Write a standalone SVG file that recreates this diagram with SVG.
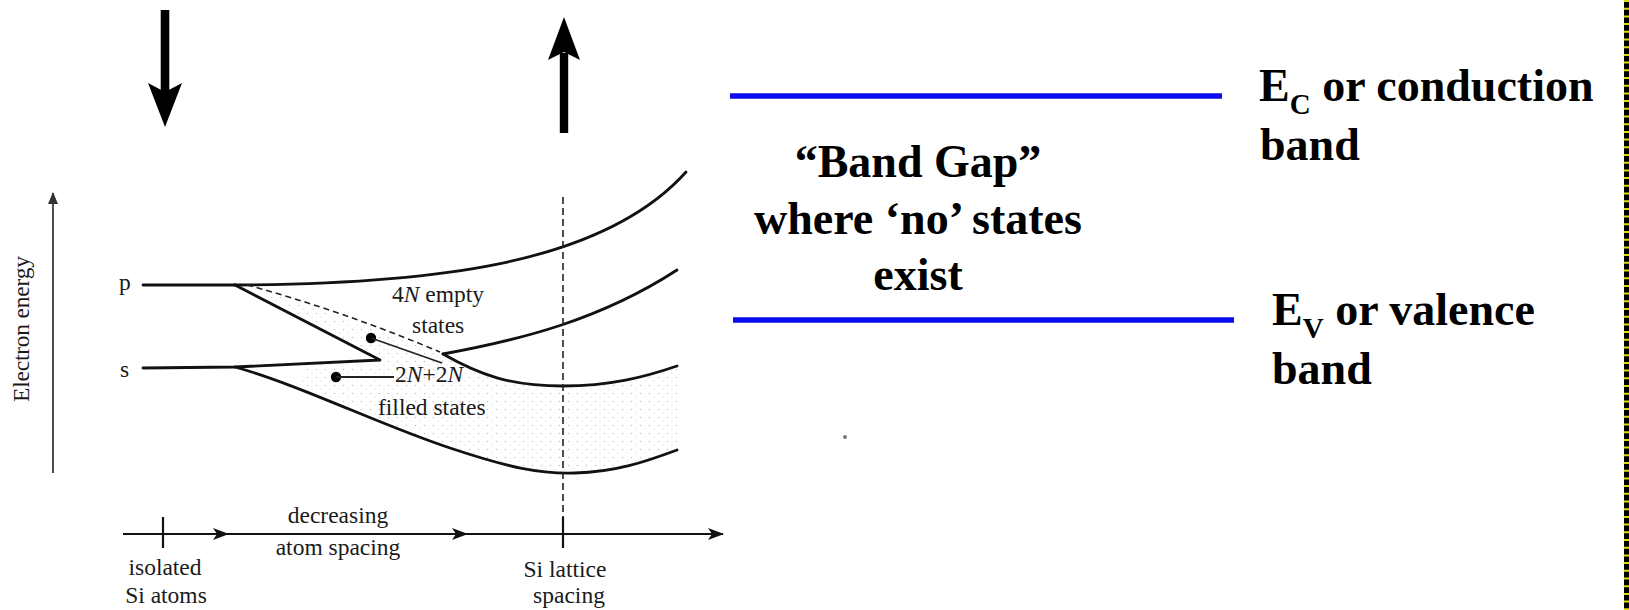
<svg xmlns="http://www.w3.org/2000/svg" width="1629" height="610" viewBox="0 0 1629 610">
<style>
.lbl{font-family:"Liberation Serif","Times New Roman",serif;font-size:23.5px;fill:#1a1a1a}
.big{font-family:"Liberation Serif","Times New Roman",serif;font-size:46px;font-weight:bold;fill:#000}
.sub{font-size:29px}
.band{fill:none;stroke:#111;stroke-width:2.8;stroke-linecap:round;stroke-linejoin:round}
.thin{fill:none;stroke:#222;stroke-width:1.6}
.blue{stroke:#0a0af0;stroke-width:5.5}
</style>
<defs>
<marker id="barb" viewBox="0 0 16 12" refX="15" refY="6" markerWidth="16" markerHeight="12" markerUnits="userSpaceOnUse" orient="auto">
<path d="M0,0 L16,6 L0,12 L4,6 Z" fill="#111"/>
</marker>
<marker id="small" viewBox="0 0 12 12" refX="11" refY="6" markerWidth="12" markerHeight="12" markerUnits="userSpaceOnUse" orient="auto">
<path d="M0,1 L12,6 L0,11 Z" fill="#333"/>
</marker>
<pattern id="stip" width="9" height="8" patternUnits="userSpaceOnUse">
<circle cx="1.5" cy="1.5" r="0.7" fill="#999"/>
<circle cx="6" cy="5" r="0.6" fill="#aaa"/>
</pattern>
</defs>
<rect width="1629" height="610" fill="#fff"/>

<g id="stipple">
<path d="M247,285 L443,354 C480,375 510,386 563,386 C610,386 645,377 677,366 L677,450 C645,462 615,472 575,473 C540,474 510,468 450,448 C380,425 300,385 300,384 L310,362 L380,360 Z" fill="url(#stip)" opacity="0.65"/>
</g>

<g id="top-arrows">
<rect x="160.7" y="10" width="8.6" height="82" fill="#000"/>
<polygon points="148,83 165,92 182,83 165,127" fill="#000"/>
<rect x="559.8" y="53" width="8.4" height="80" fill="#000"/>
<polygon points="548,60 564,52 580,60 564,17" fill="#000"/>
</g>

<g id="energy-axis">
<line x1="53" y1="473" x2="53" y2="193" class="thin" marker-end="url(#small)"/>
<text class="lbl" font-size="22" transform="translate(29,329) rotate(-90)" text-anchor="middle" textLength="146">Electron energy</text>
</g>

<g id="bands">
<text class="lbl" x="119" y="290" font-size="24">p</text>
<text class="lbl" x="120" y="377" font-size="24">s</text>
<path class="band" d="M143,285 L235,285"/>
<path class="band" d="M143,368 L235,367 L380,360 L235,285"/>
<path class="band" d="M235,285 C420,284 600,268 686,172"/>
<path class="band" d="M443,354 C520,340 600,320 677,270"/>
<path class="band" d="M443,354 C480,375 510,386 563,386 C610,386 645,377 677,366"/>
<path class="band" d="M235,367 C300,385 380,425 450,448 C510,468 540,474 575,473 C615,472 645,462 677,450"/>
<path d="M247,285 Q340,310 440,352" fill="none" stroke="#222" stroke-width="1.6" stroke-dasharray="6,4"/>
<line x1="563" y1="197" x2="563" y2="517" stroke="#222" stroke-width="1.6" stroke-dasharray="7,4"/>
<circle cx="371" cy="338" r="5.2" fill="#000"/>
<line x1="371" y1="338" x2="442" y2="363" stroke="#222" stroke-width="1.8"/>
<circle cx="336" cy="377" r="5.2" fill="#000"/>
<line x1="336" y1="377" x2="394" y2="377" stroke="#222" stroke-width="1.8"/>
<text class="lbl" x="392" y="302">4<tspan font-style="italic">N</tspan> empty</text>
<text class="lbl" x="412" y="333">states</text>
<text class="lbl" x="395" y="382">2<tspan font-style="italic">N</tspan>+2<tspan font-style="italic">N</tspan></text>
<text class="lbl" x="378" y="415">filled states</text>
</g>

<g id="spacing-axis">
<line x1="123" y1="534" x2="228" y2="534" stroke="#111" stroke-width="2.2" marker-end="url(#barb)"/>
<line x1="226" y1="534" x2="467" y2="534" stroke="#111" stroke-width="2.2" marker-end="url(#barb)"/>
<line x1="465" y1="534" x2="723" y2="534" stroke="#111" stroke-width="2.2" marker-end="url(#barb)"/>
<line x1="163" y1="517" x2="163" y2="548" stroke="#111" stroke-width="2.2"/>
<line x1="563" y1="517" x2="563" y2="548" stroke="#111" stroke-width="2.2"/>
<text class="lbl" x="338" y="523" text-anchor="middle">decreasing</text>
<text class="lbl" x="338" y="555" text-anchor="middle">atom spacing</text>
<text class="lbl" x="165" y="575" text-anchor="middle">isolated</text>
<text class="lbl" x="166" y="603" text-anchor="middle">Si atoms</text>
<text class="lbl" x="565" y="577" text-anchor="middle">Si lattice</text>
<text class="lbl" x="569" y="603" text-anchor="middle">spacing</text>
</g>

<g id="band-diagram">
<line class="blue" x1="730" y1="96" x2="1222" y2="96"/>
<line class="blue" x1="733" y1="320" x2="1234" y2="320"/>
<text class="big" text-anchor="middle" font-size="47"><tspan x="918" y="177">“Band Gap”</tspan><tspan x="918" y="234">where ‘no’ states</tspan><tspan x="918" y="290">exist</tspan></text>
<text class="big" x="1259" y="101">E<tspan class="sub" dy="13">C</tspan><tspan dy="-13"> or conduction</tspan></text>
<text class="big" x="1260" y="160">band</text>
<text class="big" x="1272" y="325">E<tspan class="sub" dy="13">V</tspan><tspan dy="-13"> or valence</tspan></text>
<text class="big" x="1272" y="384">band</text>
<circle cx="845" cy="437" r="2" fill="#777"/>
</g>

<g id="edge">
<rect x="1624" y="0" width="5" height="610" fill="#000"/>
<line x1="1626.5" y1="0" x2="1626.5" y2="610" stroke="#e0e000" stroke-width="5" stroke-dasharray="2,5.7"/>
</g>
</svg>
